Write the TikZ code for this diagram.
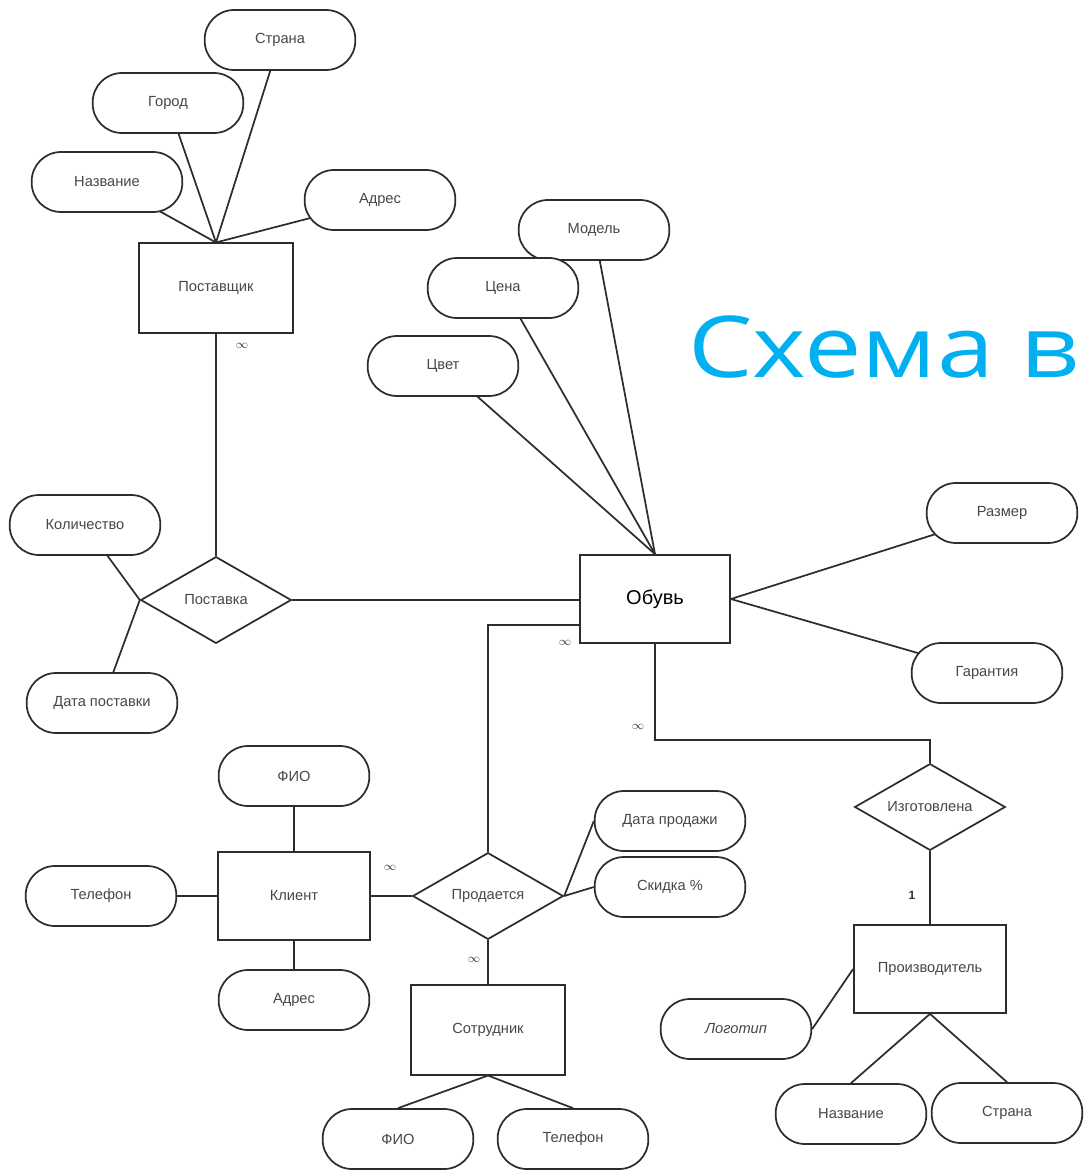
\documentclass[tikz,border=0pt]{standalone}
\usepackage{fontspec}
\setmainfont{Liberation Sans}
\newfontfamily\titlefont{Open Sans}
\usetikzlibrary{shapes.geometric,backgrounds,calc}
\definecolor{titleblue}{RGB}{0,176,240}
\definecolor{ink}{RGB}{45,45,45}
\begin{document}
\begin{tikzpicture}[x=0.75pt,y=-0.75pt,
  lbl/.style={font=\fontsize{11}{12}\selectfont, text=black!72},
  attr/.style={lbl, draw=ink, fill=white, line width=1.3pt, rounded corners=22pt,
    minimum width=113pt, minimum height=45pt, inner sep=0pt},
  ent/.style={lbl, draw=ink, fill=white, line width=1.3pt,
    minimum width=114pt, minimum height=66pt, inner sep=0pt},
  rel/.style={lbl, diamond, aspect=1.75, draw=ink, fill=white, line width=1.3pt,
    minimum width=113pt, minimum height=65pt, inner sep=0pt},
  link/.style={draw=ink, line width=1.3pt},
  card/.style={font=\small, text=black!80, inner sep=0pt}
]
\useasboundingbox (0,0) rectangle (1083,1171);

% --- Поставщик
\node[attr] (strana1) at (280,40) {Страна};
\node[attr] (gorod) at (168,103) {Город};
\node[attr] (nazv1) at (107,182) {Название};
\node[attr] (adres1) at (380,200) {Адрес};
\node[ent, minimum width=115pt, minimum height=67pt] (postav) at (216,288) {Поставщик};

% --- Обувь
\node[attr] (model) at (594,230) {Модель};
\node[attr] (cena) at (503,288) {Цена};
\node[attr] (cvet) at (443,366) {Цвет};
\node[ent, minimum width=112.5pt, minimum height=66pt,
  font=\fontsize{15}{16}\selectfont, text=black] (obuv) at (655,599) {Обувь};
\node[attr] (razmer) at (1002,513) {Размер};
\node[attr] (garant) at (987,673) {Гарантия};

% --- Поставка
\node[attr] (kolvo) at (85,525) {Количество};
\node[attr] (datapost) at (102,703) {Дата поставки};
\node[rel] (postavka) at (216,600) {Поставка};

% --- Производитель
\node[rel] (izg) at (930,807) {Изготовлена};
\node[ent] (proizv) at (930,969) {Производитель};
\node[attr, font=\itshape\fontsize{11}{12}\selectfont] (logo) at (736,1029) {Логотип};
\node[attr] (nazv2) at (851,1114) {Название};
\node[attr] (strana2) at (1007,1113) {Страна};

% --- Клиент / Продается / Сотрудник
\node[attr] (fio1) at (294,776) {ФИО};
\node[ent] (klient) at (294,896) {Клиент};
\node[attr] (tel1) at (101,896) {Телефон};
\node[attr] (adres2) at (294,1000) {Адрес};
\node[rel] (prod) at (488,896) {Продается};
\node[attr] (datapr) at (670,821) {Дата продажи};
\node[attr] (skidka) at (670,887) {Скидка \%};
\node[ent, minimum width=115pt, minimum height=67pt] (sotr) at (488,1030) {Сотрудник};
\node[attr] (fio2) at (398,1139) {ФИО};
\node[attr] (tel2) at (573,1139) {Телефон};

% --- cardinalities
\node[card] (c1) at (242,346) {$\infty$};
\node[card] (c2) at (565,643) {$\infty$};
\node[card] (c3) at (638,727) {$\infty$};
\node[card] (c4) at (390,868) {$\infty$};
\node[card] (c5) at (474,960) {$\infty$};
\node[card, font=\small\bfseries] (c6) at (912,895) {1};

\coordinate (kink) at (930,740);

% --- title
\node[anchor=base west, inner sep=0pt, text=titleblue,
  font=\titlefont\fontsize{64}{64}\selectfont, xscale=1.2, transform shape] (title) at (688,377) {Схема в};

% --- connectors
\begin{scope}[on background layer]
\draw[link] (nazv1.center) -- (postav.north);
\draw[link] (gorod.center) -- (postav.north);
\draw[link] (strana1.center) -- (postav.north);
\draw[link] (adres1.center) -- (postav.north);
\draw[link] (postav.south) -- (postavka.north);
\draw[link] (kolvo.center) -- (postavka.west);
\draw[link] (datapost.center) -- (postavka.west);
\draw[link] (postavka.east) -- (obuv.west |- postavka.east);
\draw[link] (model.center) -- (obuv.north);
\draw[link] (cena.center) -- (obuv.north);
\draw[link] (cvet.center) -- (obuv.north);
\draw[link] (razmer.center) -- (obuv.east);
\draw[link] (garant.center) -- (obuv.east);
\draw[link] (prod.north) |- ([yshift=-19.5pt]obuv.west);
\draw[link] (obuv.south) |- (kink) -- (izg.north);
\draw[link] (izg.south) -- (proizv.north);
\draw[link] (logo.east) -- (proizv.west);
\draw[link] (proizv.south) -- (nazv2.north);
\draw[link] (proizv.south) -- (strana2.north);
\draw[link] (fio1.south) -- (klient.north);
\draw[link] (tel1.east) -- (klient.west);
\draw[link] (klient.south) -- (adres2.north);
\draw[link] (klient.east) -- (prod.west);
\draw[link] (prod.east) -- (datapr.west);
\draw[link] (prod.east) -- (skidka.west);
\draw[link] (prod.south) -- (sotr.north);
\draw[link] (sotr.south) -- (fio2.north);
\draw[link] (sotr.south) -- (tel2.north);
\end{scope}
\end{tikzpicture}
\end{document}
